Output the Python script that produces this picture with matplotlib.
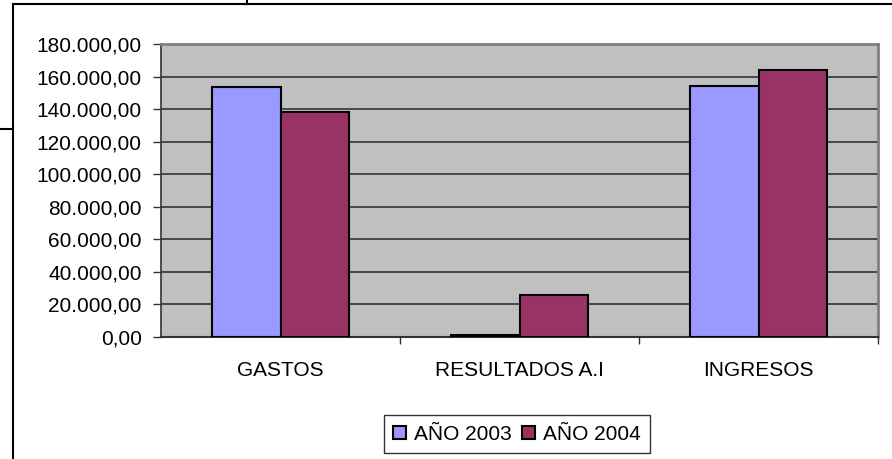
# Gastos / Resultados / Ingresos bar chart

from matplotlib import pyplot as plt
from matplotlib.lines import Line2D
from matplotlib.ticker import FuncFormatter

categories = ["GASTOS", "RESULTADOS A.I", "INGRESOS"]
series_names = ["AÑO 2003", "AÑO 2004"]
values_2003 = [153300, 1500, 154500]
values_2004 = [138400, 25900, 164300]
y_ticks = [0, 20000, 40000, 60000, 80000, 100000, 120000, 140000, 160000, 180000]

COLORS = ["#9999FF", "#993366"]
W, H = 892, 459


def es_format(v, pos=None):
    s = f"{v:,.2f}"
    return s.replace(",", "X").replace(".", ",").replace("X", ".")


plt.rcParams["font.family"] = ["Liberation Sans", "DejaVu Sans"]
plt.rcParams["font.size"] = 15

fig = plt.figure(figsize=(W / 100, H / 100), dpi=100)

# Plot area in pixel coordinates
left, right, top, bottom = 161, 878, 44, 337
ax = fig.add_axes([left / W, 1 - bottom / H, (right - left) / W, (bottom - top) / H])
ax.set_facecolor("#C0C0C0")

# Bars
width = 0.285
xs = range(len(categories))
for i, vals in enumerate([values_2003, values_2004]):
    offs = (i - 0.5) * width
    ax.bar([x + offs for x in xs], vals, width=width, color=COLORS[i],
           edgecolor="black", linewidth=1.5, label=series_names[i], zorder=3)

# Axes formatting
ax.set_xlim(-0.5, 2.5)
ax.set_ylim(0, 180000)
ax.set_yticks(y_ticks)
ax.yaxis.set_major_formatter(FuncFormatter(es_format))
ax.yaxis.grid(True, color="#333333", linewidth=1.2, zorder=1)
ax.set_axisbelow(True)
ax.set_xticks(list(xs))
ax.set_xticklabels(categories)
ax.set_xticks([0.5, 1.5, 2.5], minor=True)
ax.tick_params(axis="x", which="major", length=0, pad=17)
ax.tick_params(axis="x", which="minor", length=5, width=1, color="#333333")
ax.tick_params(axis="y", length=6, width=1, color="#333333", pad=8)

for side in ["top", "right"]:
    ax.spines[side].set_color("#808080")
    ax.spines[side].set_linewidth(2)
ax.spines["left"].set_color("#333333")
ax.spines["left"].set_linewidth(1.2)
ax.spines["bottom"].set_color("#333333")
ax.spines["bottom"].set_linewidth(1.5)

# Legend
leg = fig.legend(loc="center", bbox_to_anchor=(517 / W, 1 - 434 / H), ncol=2,
                 frameon=True, fancybox=False, handlelength=0.6, handleheight=0.6,
                 handletextpad=0.4, columnspacing=0.5, borderpad=0.45)
leg.get_frame().set_edgecolor("black")
leg.get_frame().set_linewidth(1)
for h in leg.legend_handles:
    h.set_edgecolor("black")
    h.set_linewidth(1.5)

# Outer chart frame
def px_line(xs_, ys_):
    fig.add_artist(Line2D([x / W for x in xs_], [1 - y / H for y in ys_],
                          color="black", linewidth=1.5))

px_line([13, 13], [4, H])
px_line([13, W], [4, 4])
px_line([0, 13], [129, 129])
px_line([247, 247], [0, 4])

fig.savefig("out.png", dpi=100)
plt.close(fig)
